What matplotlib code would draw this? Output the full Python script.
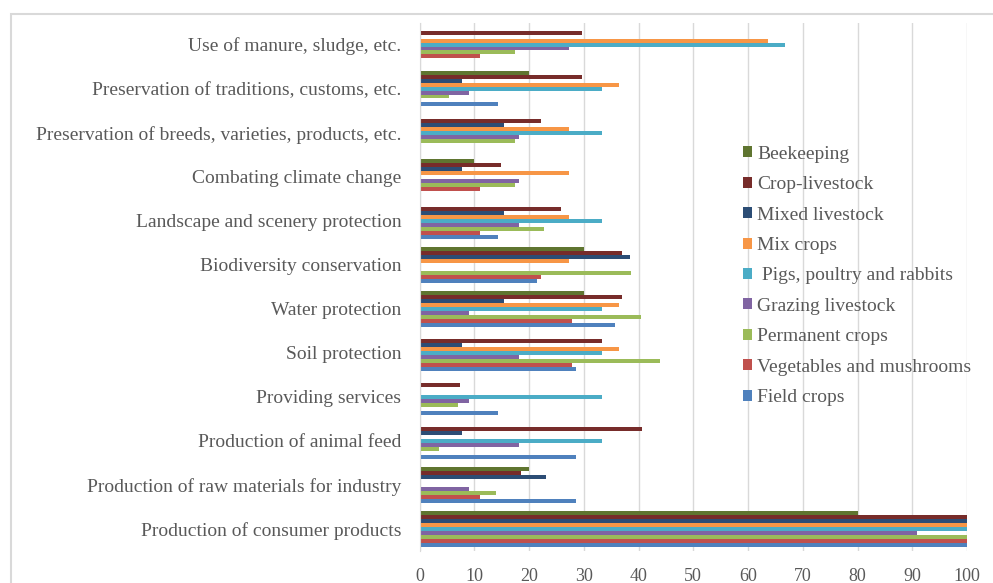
import numpy as np
import matplotlib
matplotlib.use("Agg")
import matplotlib.pyplot as plt
from matplotlib.patches import Rectangle

# categories, bottom to top
categories = [
    "Production of consumer products",
    "Production of raw materials for industry",
    "Production of animal feed",
    "Providing services",
    "Soil protection",
    "Water protection",
    "Biodiversity conservation",
    "Landscape and scenery protection",
    "Combating climate change",
    "Preservation of breeds, varieties, products, etc.",
    "Preservation of traditions, customs, etc.",
    "Use of manure, sludge, etc.",
]

# farm types, drawn bottom to top inside each group
field_crops = [100, 28.6, 28.6, 14.3, 28.6, 35.7, 21.4, 14.3, 0, 0, 14.3, 0]
vegetables = [100, 11.1, 0, 0, 27.8, 27.8, 22.2, 11.1, 11.1, 0, 0, 11.1]
permanent_crops = [100, 14.0, 3.5, 7.0, 43.9, 40.4, 38.6, 22.8, 17.5, 17.5, 5.3, 17.5]
grazing_livestock = [90.9, 9.1, 18.2, 9.1, 18.2, 9.1, 0, 18.2, 18.2, 18.2, 9.1, 27.3]
pigs_poultry = [100, 0, 33.3, 33.3, 33.3, 33.3, 0, 33.3, 0, 33.3, 33.3, 66.7]
mix_crops = [100, 0, 0, 0, 36.4, 36.4, 27.3, 27.3, 27.3, 27.3, 36.4, 63.6]
mixed_livestock = [100, 23.1, 7.7, 0, 7.7, 15.4, 38.5, 15.4, 7.7, 15.4, 7.7, 0]
crop_livestock = [100, 18.5, 40.7, 7.4, 33.3, 37.0, 37.0, 25.9, 14.8, 22.2, 29.6, 29.6]
beekeeping = [80, 20, 0, 0, 0, 30, 30, 0, 10, 0, 20, 0]

series = [
    ("Field crops", field_crops, "#4F81BD"),
    ("Vegetables and mushrooms", vegetables, "#C0504D"),
    ("Permanent crops", permanent_crops, "#9BBB59"),
    ("Grazing livestock", grazing_livestock, "#8064A2"),
    (" Pigs, poultry and rabbits", pigs_poultry, "#4BACC6"),
    ("Mix crops", mix_crops, "#F79646"),
    ("Mixed livestock", mixed_livestock, "#2C4D75"),
    ("Crop-livestock", crop_livestock, "#772C2A"),
    ("Beekeeping", beekeeping, "#5F7530"),
]

plt.rcParams["font.family"] = ["Liberation Serif", "DejaVu Serif"]
text_col = "#595959"
grid_col = "#d9d9d9"

fig = plt.figure(figsize=(9.93, 5.83), dpi=100)
ax = fig.add_axes([419.5 / 993, 1 - 551 / 583, (967 - 419.5) / 993, (551 - 22.5) / 583])

y = np.arange(len(categories))
h = 0.09
n = len(series)
handles = []
for i, (name, vals, col) in enumerate(series):
    off = (i - (n - 1) / 2) * h
    b = ax.barh(y + off, vals, height=h, color=col, label=name, linewidth=0)
    handles.append(b)

ax.set_xlim(0, 100)
ax.set_ylim(-0.5, len(categories) - 0.5)
ax.set_xticks(np.arange(0, 101, 10))
ax.set_yticks(y)
ax.set_yticklabels(categories)
ax.tick_params(axis="both", length=0, labelcolor=text_col)
ax.tick_params(axis="x", pad=12.5, labelsize=13)
ax.tick_params(axis="y", pad=13, labelsize=14)
ax.grid(axis="x", color=grid_col, linewidth=1)
ax.set_axisbelow(True)
for s in ["top", "right", "bottom"]:
    ax.spines[s].set_visible(False)
ax.spines["left"].set_color(grid_col)

leg = ax.legend(handles[::-1], [s[0] for s in series][::-1],
                loc="upper left", bbox_to_anchor=(0.558, 0.8),
                frameon=False, fontsize=14, handlelength=0.5, handleheight=0.5,
                handletextpad=0.25, labelspacing=0.69)
for t in leg.get_texts():
    t.set_color(text_col)

# outer chart border
fig.patches.append(Rectangle((11 / 993, -0.1), 1.2, 1 - 14 / 583 + 0.1,
                             transform=fig.transFigure, fill=False,
                             edgecolor=grid_col, linewidth=1.5))

fig.savefig("out.png", dpi=100)
